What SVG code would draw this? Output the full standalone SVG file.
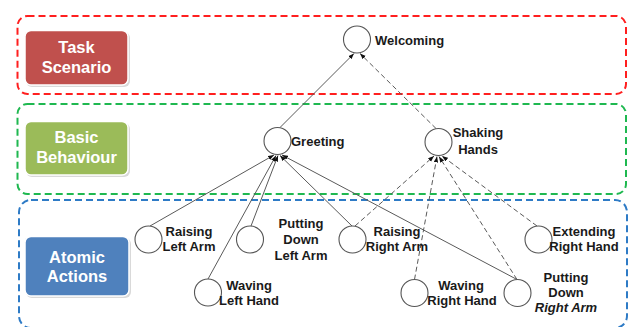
<svg xmlns="http://www.w3.org/2000/svg" width="631" height="327" viewBox="0 0 631 327">
<defs>
<style>
.zone{fill:none;stroke-width:2;stroke-dasharray:7 4}
.btn{stroke:#ffffff;stroke-width:1.5}
.shadow{fill:#d9d9d9}
.btxt{font-family:"Liberation Sans",Arial,sans-serif;font-weight:bold;font-size:16.5px;fill:#ffffff;text-anchor:middle}
.node circle{fill:#ffffff;stroke:#555555;stroke-width:1.1}
.lbl{font-family:"Liberation Sans",Arial,sans-serif;font-weight:bold;font-size:13px;fill:#1a1a1a}
.mid{text-anchor:middle}
.conn line{stroke:#5a5a5a;stroke-width:1}
.dash{stroke-dasharray:5 3}
</style>
<marker id="arr" viewBox="0 0 8 6" refX="8" refY="3" markerWidth="6" markerHeight="5" orient="auto" markerUnits="userSpaceOnUse">
<path d="M0,0 L8,3 L0,6 Z" fill="#111111"/>
</marker>
</defs>
<rect width="631" height="327" fill="#ffffff"/>

<g id="zones">
<rect class="zone" x="17.5" y="16" width="608.5" height="78" rx="10" stroke="#ff1f1f"/>
<rect class="zone" x="17.5" y="104" width="608.5" height="90" rx="10" stroke="#1fb850"/>
<rect class="zone" x="19" y="200" width="608" height="128" rx="12" stroke="#2e7bc6"/>
</g>

<g id="level-task">
<rect class="shadow" x="26" y="32" width="104" height="55" rx="6"/>
<rect class="btn" x="25" y="30.5" width="103" height="54.5" rx="6" fill="#c0504d"/>
<text class="btxt" x="76.5" y="53">Task</text>
<text class="btxt" x="76.5" y="73">Scenario</text>
</g>
<g id="level-basic">
<rect class="shadow" x="26" y="123" width="104" height="54" rx="6"/>
<rect class="btn" x="25" y="121.5" width="103" height="53.5" rx="6" fill="#9bbb59"/>
<text class="btxt" x="76.5" y="143">Basic</text>
<text class="btxt" x="76.5" y="163">Behaviour</text>
</g>
<g id="level-atomic">
<rect class="shadow" x="26" y="238" width="105" height="60" rx="6"/>
<rect class="btn" x="25" y="236.5" width="104" height="59.5" rx="6" fill="#4f81bd"/>
<text class="btxt" x="77" y="263">Atomic</text>
<text class="btxt" x="77" y="282">Actions</text>
</g>

<g id="connectors" class="conn">
<line x1="280" y1="127.5" x2="354" y2="53.5" marker-end="url(#arr)"/>
<line class="dash" x1="436" y1="128.5" x2="360" y2="53.5" marker-end="url(#arr)"/>
<line x1="150" y1="226" x2="274" y2="155" marker-end="url(#arr)"/>
<line x1="208" y1="279" x2="276" y2="155.5" marker-end="url(#arr)"/>
<line x1="251" y1="226" x2="278" y2="155.5" marker-end="url(#arr)"/>
<line x1="352" y1="226" x2="280" y2="155.5" marker-end="url(#arr)"/>
<line x1="517" y1="279.5" x2="282" y2="155" marker-end="url(#arr)"/>
<line class="dash" x1="355" y1="226" x2="434" y2="156" marker-end="url(#arr)"/>
<line class="dash" x1="414.5" y1="279.5" x2="437" y2="156.5" marker-end="url(#arr)"/>
<line class="dash" x1="517" y1="279.5" x2="439" y2="156.5" marker-end="url(#arr)"/>
<line class="dash" x1="537" y1="226" x2="442" y2="156" marker-end="url(#arr)"/>
</g>

<g id="welcoming" class="node"><circle cx="357" cy="39.5" r="13.5"/><text class="lbl" x="375" y="45">Welcoming</text></g>
<g id="greeting" class="node"><circle cx="277.5" cy="141" r="13.5"/><text class="lbl" x="291" y="146">Greeting</text></g>
<g id="shaking-hands" class="node"><circle cx="438.5" cy="142" r="13.5"/><text class="lbl mid" x="478" y="137">Shaking</text><text class="lbl mid" x="478" y="154">Hands</text></g>
<g id="raising-left-arm" class="node"><circle cx="148.5" cy="239.5" r="13.5"/><text class="lbl mid" x="189" y="236">Raising</text><text class="lbl mid" x="189" y="251">Left Arm</text></g>
<g id="putting-down-left-arm" class="node"><circle cx="250" cy="239.5" r="13.5"/><text class="lbl mid" x="301" y="228">Putting</text><text class="lbl mid" x="301" y="244">Down</text><text class="lbl mid" x="301" y="260">Left Arm</text></g>
<g id="waving-left-hand" class="node"><circle cx="208" cy="292.5" r="13.5"/><text class="lbl mid" x="249" y="290">Waving</text><text class="lbl mid" x="249" y="305">Left Hand</text></g>
<g id="raising-right-arm" class="node"><circle cx="352.5" cy="239.5" r="13.5"/><text class="lbl mid" x="397" y="236">Raising</text><text class="lbl mid" x="397" y="251">Right Arm</text></g>
<g id="waving-right-hand" class="node"><circle cx="414.5" cy="293" r="13.5"/><text class="lbl mid" x="461" y="290">Waving</text><text class="lbl mid" x="462" y="305">Right Hand</text></g>
<g id="putting-down-right-arm" class="node"><circle cx="517.5" cy="293" r="13.5"/><text class="lbl mid" x="566" y="282">Putting</text><text class="lbl mid" x="566" y="297">Down</text><text class="lbl mid" x="566" y="312" font-style="italic">Right Arm</text></g>
<g id="extending-right-hand" class="node"><circle cx="538.5" cy="239.5" r="13.5"/><text class="lbl mid" x="584" y="236">Extending</text><text class="lbl mid" x="584" y="251">Right Hand</text></g>
</svg>
